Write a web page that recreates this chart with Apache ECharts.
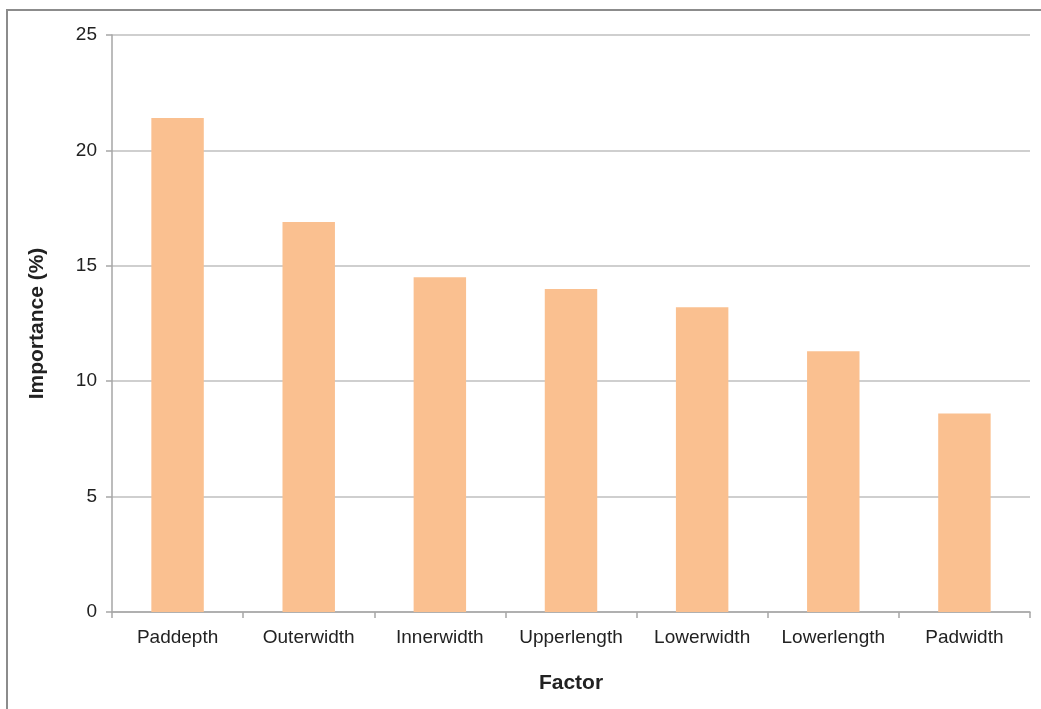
<!DOCTYPE html>
<html><head><meta charset="utf-8">
<style>html,body{margin:0;padding:0;background:#fff}#c{width:1041px;height:709px}</style>
<script src="https://cdn.jsdelivr.net/npm/echarts@6/dist/echarts.min.js"></script>
</head><body><div id="c"></div>
<script>
const categories = ['Paddepth','Outerwidth','Innerwidth','Upperlength','Lowerwidth','Lowerlength','Padwidth'];
const importance = [21.4, 16.9, 14.5, 14.0, 13.2, 11.3, 8.6];
const yTicks = {min: 0, max: 25, interval: 5};

const chart = echarts.init(document.getElementById('c'), null, {renderer: 'canvas'});
chart.setOption({
  animation: false,
  backgroundColor: '#fff',
  graphic: [{type: 'rect', shape: {x: 7, y: 10, width: 1060, height: 720}, style: {fill: 'none', stroke: '#8c8c8c', lineWidth: 2}, silent: true}],
  grid: {left: 112, right: 11, top: 35, bottom: 97, containLabel: false},
  xAxis: {
    type: 'category', data: categories,
    name: 'Factor', nameLocation: 'middle', nameGap: 61,
    nameTextStyle: {fontFamily: 'Liberation Sans', fontSize: 21, fontWeight: 'bold', color: '#222'},
    axisLine: {lineStyle: {color: '#a6a6a6', width: 1.5}},
    axisTick: {show: true, interval: 0, length: 6, lineStyle: {color: '#a6a6a6', width: 1.5}},
    axisLabel: {interval: 0, hideOverlap: false, fontFamily: 'Liberation Sans', fontSize: 19, color: '#222', margin: 16}
  },
  yAxis: {
    type: 'value', min: yTicks.min, max: yTicks.max, interval: yTicks.interval,
    name: 'Importance (%)', nameLocation: 'middle', nameGap: 64, nameRotate: 90,
    nameTextStyle: {fontFamily: 'Liberation Sans', fontSize: 21, fontWeight: 'bold', color: '#222'},
    axisLine: {show: true, lineStyle: {color: '#a6a6a6', width: 1.5}},
    axisTick: {show: true, length: 6, lineStyle: {color: '#a6a6a6', width: 1.5}},
    splitLine: {lineStyle: {color: '#bfbfbf', width: 1.5}},
    axisLabel: {fontFamily: 'Liberation Sans', fontSize: 19, color: '#222', margin: 15}
  },
  series: [{
    type: 'bar', data: importance, barWidth: '40%',
    itemStyle: {color: '#fac090'}
  }]
});
</script></body></html>
